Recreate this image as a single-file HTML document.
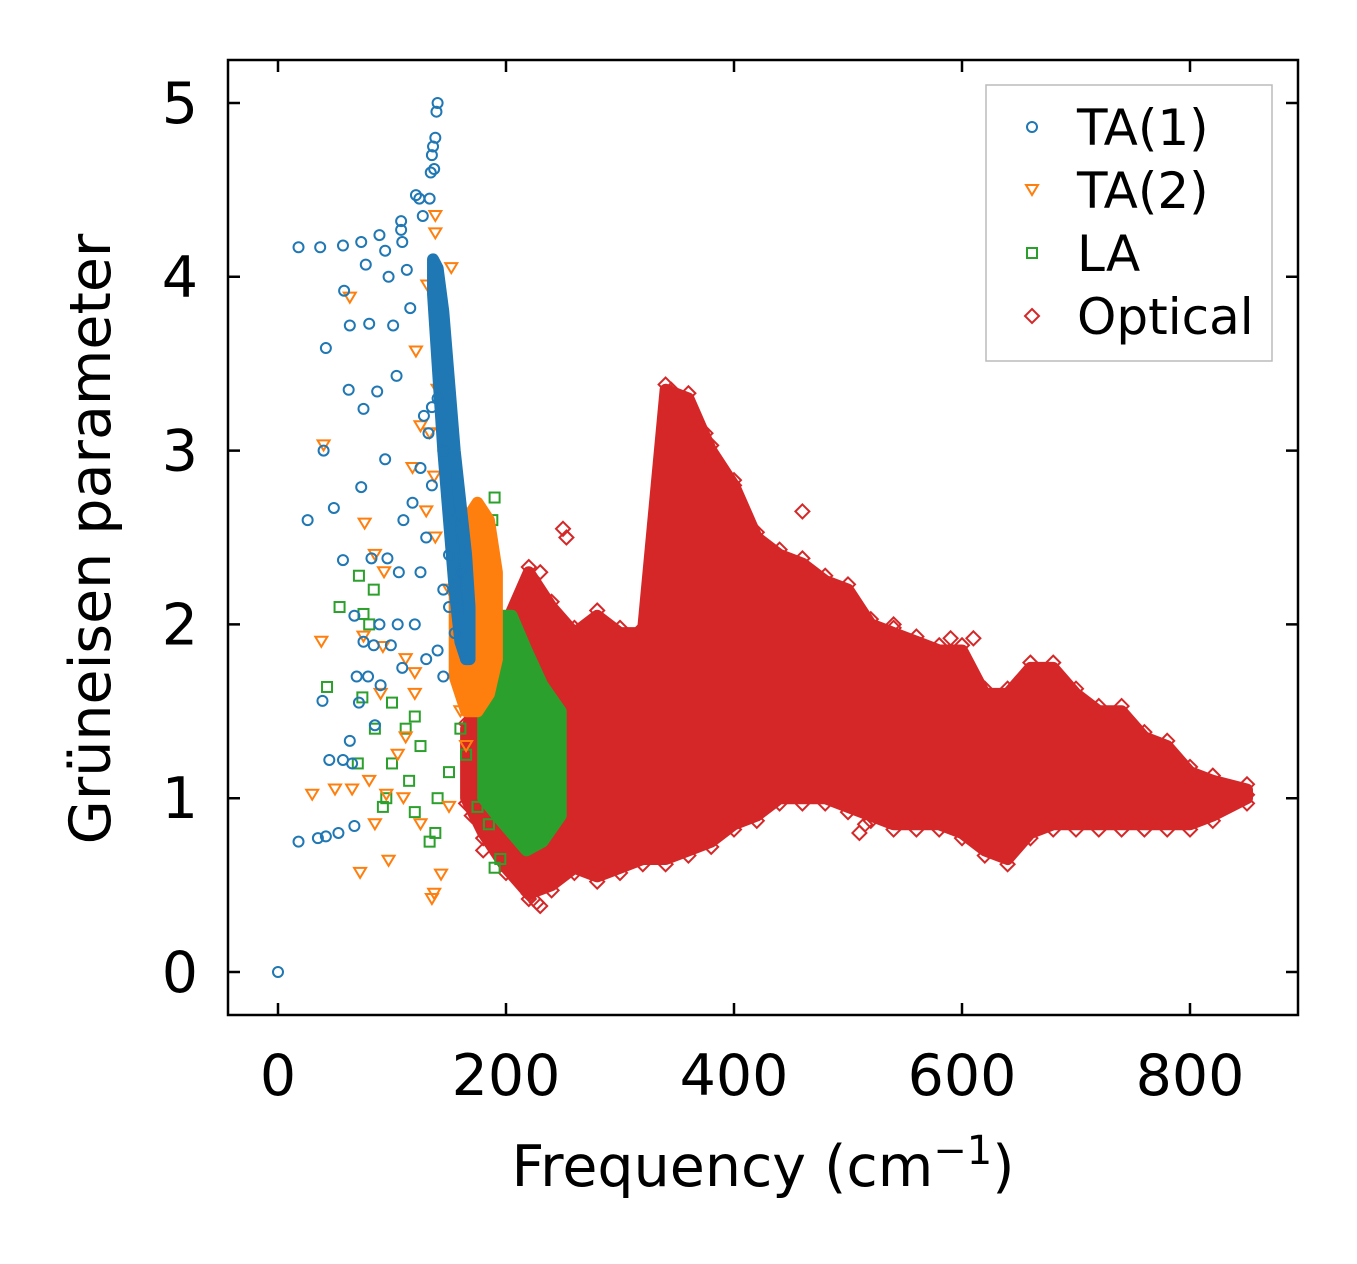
<!DOCTYPE html>
<html><head><meta charset="utf-8"><style>
html,body{margin:0;padding:0;background:#fff;}
svg{display:block;font-family:"DejaVu Sans","Liberation Sans",sans-serif;}
</style></head><body>
<svg id="chart" width="1357" height="1264" viewBox="0 0 1357 1264">
<g id="marks"></g>
<rect x="228" y="60" width="1070" height="955" fill="none" stroke="#000" stroke-width="2.5"/>
<g id="axes"></g>
<text x="763" y="1186" text-anchor="middle" font-size="57">Frequency (cm<tspan dy="-22" font-size="40">−1</tspan><tspan dy="22">)</tspan></text>
<text transform="translate(110,539) rotate(-90)" text-anchor="middle" font-size="57">Grüneisen parameter</text>
<g>
<rect x="986" y="85" width="286" height="276" fill="#fff" fill-opacity="0.8" stroke="#bbb" stroke-width="1.5"/>
<circle cx="1032" cy="127" r="5" fill="none" stroke="#1f77b4" stroke-width="2"/>
<text x="1077" y="145" font-size="50">TA(1)</text>
<path d="M1026,185 L1038,185 L1032,195 Z" fill="none" stroke="#ff7f0e" stroke-width="2"/>
<text x="1077" y="208" font-size="50">TA(2)</text>
<rect x="1027" y="248" width="10" height="10" fill="none" stroke="#2ca02c" stroke-width="2"/>
<text x="1077" y="271" font-size="50">LA</text>
<path d="M1032,309 L1039,316 L1032,323 L1025,316 Z" fill="none" stroke="#d62728" stroke-width="2"/>
<text x="1077" y="334" font-size="50">Optical</text>
</g>
</svg>
<script>
const xTicks=[0,200,400,600,800];
const yTicks=[0,1,2,3,4,5];
// Optical band envelope
const optX=[165,180,200,220,240,260,280,300,320,340,360,380,400,420,440,460,480,500,520,540,560,580,600,620,640,660,680,700,720,740,760,780,800,820,850];
const optLo=[1.0,0.8,0.6,0.45,0.5,0.6,0.55,0.6,0.65,0.65,0.7,0.75,0.85,0.9,1.0,1.0,1.0,0.95,0.9,0.85,0.85,0.85,0.8,0.7,0.65,0.8,0.85,0.85,0.85,0.85,0.85,0.85,0.85,0.9,1.0];
const optHi=[1.4,1.6,2.0,2.3,2.1,1.95,2.05,1.95,1.95,3.35,3.3,3.0,2.8,2.5,2.4,2.35,2.25,2.2,2.0,1.95,1.9,1.85,1.85,1.6,1.6,1.75,1.75,1.6,1.5,1.5,1.35,1.3,1.15,1.1,1.05];
const optOutX=[345,250,253,230,460,540,590,610,510,515,227,230,220,180,190,170,175,850,400,375,365];
const optOutY=[3.35,2.55,2.5,2.3,2.65,2.0,1.92,1.92,0.8,0.85,0.4,0.38,0.45,0.7,0.8,0.9,1.2,1.02,2.8,3.1,3.2];
// LA
const laBandX=[180,192,205,218,232,248];
const laBandLo=[1.0,0.9,0.8,0.7,0.75,0.9];
const laBandHi=[1.9,2.05,2.05,1.85,1.65,1.5];
const laX=[190,188,71,84,75,80,54,43,74,100,120,112,85,125,70,100,115,95,92,120,133,138,190,195,140,150,160,165,175,185];
const laY=[2.73,2.6,2.28,2.2,2.06,2.0,2.1,1.64,1.58,1.55,1.47,1.4,1.4,1.3,1.2,1.2,1.1,1.0,0.95,0.92,0.75,0.8,0.6,0.65,1.0,1.15,1.4,1.25,0.95,0.85];
// TA(2)
const ta2BandX=[155,165,175,185,192];
const ta2BandLo=[1.7,1.5,1.5,1.6,1.8];
const ta2BandHi=[2.3,2.6,2.7,2.6,2.3];
const ta2X=[138,138,152,131,63,121,140,125,40,133,118,137,130,76,85,93,138,150,38,75,92,112,160,120,175,170,180,185,90,120,105,112,80,65,30,50,95,110,85,125,97,72,143,137,135,150,165,170,160,175,180];
const ta2Y=[4.35,4.25,4.05,3.95,3.88,3.57,3.35,3.14,3.03,3.1,2.9,2.85,2.65,2.58,2.4,2.3,2.5,2.2,1.9,1.93,1.87,1.8,1.75,1.72,1.9,2.2,1.8,2.1,1.6,1.6,1.25,1.35,1.1,1.05,1.02,1.05,1.02,1.0,0.85,0.85,0.64,0.57,0.56,0.45,0.42,0.95,1.3,1.55,1.5,2.4,2.0];
// TA(1)
const ta1BandX=[136,140,145,150,155,160,165,168];
const ta1BandLo=[3.9,3.5,3.0,2.6,2.2,1.9,1.8,1.8];
const ta1BandHi=[4.1,4.05,3.8,3.4,3.0,2.7,2.4,2.1];
const ta1X=[140,139,138,136,135,137,134,121,124,133,127,108,108,18,37,57,73,89,94,109,77,113,97,58,116,63,80,101,42,104,62,87,75,40,94,73,49,26,110,57,82,96,106,67,89,105,75,84,99,69,79,90,109,39,71,85,63,57,45,65,67,53,42,35,18,0,120,125,130,135,132,128,125,118,145,150,155,145,140,135,150,155,145,165,160,158,140,130];
const ta1Y=[5.0,4.95,4.8,4.75,4.7,4.62,4.6,4.47,4.45,4.45,4.35,4.32,4.27,4.17,4.17,4.18,4.2,4.24,4.15,4.2,4.07,4.04,4.0,3.92,3.82,3.72,3.73,3.72,3.59,3.43,3.35,3.34,3.24,3.0,2.95,2.79,2.67,2.6,2.6,2.37,2.38,2.38,2.3,2.05,2.0,2.0,1.9,1.88,1.88,1.7,1.7,1.65,1.75,1.56,1.55,1.42,1.33,1.22,1.22,1.2,0.84,0.8,0.78,0.77,0.75,0.0,2.0,2.3,2.5,2.8,3.1,3.2,2.9,2.7,2.2,2.4,2.6,3.0,3.3,3.25,2.1,1.95,1.7,1.8,2.3,2.1,1.85,1.8];

const NS='http://www.w3.org/2000/svg';
const sx=v=>278+v*1.14;
const sy=v=>972-v*173.8;
const marks=document.getElementById('marks');
const axes=document.getElementById('axes');
function mk(tag,attrs,parent){const e=document.createElementNS(NS,tag);for(const k in attrs)e.setAttribute(k,attrs[k]);parent.appendChild(e);return e;}
function band(xs,lo,hi,color){
  let pts=xs.map((x,i)=>sx(x)+','+sy(hi[i]));
  for(let i=xs.length-1;i>=0;i--)pts.push(sx(xs[i])+','+sy(lo[i]));
  return mk('polygon',{points:pts.join(' '),fill:color,stroke:color,'stroke-width':12,'stroke-linejoin':'round'},marks);
}
function marker(shape,x,y,color){
  const X=sx(x),Y=sy(y);let e;
  if(shape==='circle')e=mk('circle',{cx:X,cy:Y,r:5,fill:'none',stroke:color,'stroke-width':2},marks);
  else if(shape==='tri')e=mk('path',{d:`M${X-6},${Y-5} L${X+6},${Y-5} L${X},${Y+5} Z`,fill:'none',stroke:color,'stroke-width':2},marks);
  else if(shape==='sq')e=mk('rect',{x:X-5,y:Y-5,width:10,height:10,fill:'none',stroke:color,'stroke-width':2},marks);
  else e=mk('path',{d:`M${X},${Y-7} L${X+7},${Y} L${X},${Y+7} L${X-7},${Y} Z`,fill:'none',stroke:color,'stroke-width':2},marks);
  return e;
}
// Optical
let b=band(optX,optLo,optHi,'#d62728');


optX.forEach((x,i)=>{
  let m1=marker('dia',x,optHi[i]+0.03,'#d62728');
  
  
  let m2=marker('dia',x,optLo[i]-0.03,'#d62728');
  
  
});
optOutX.forEach((x,i)=>{
  let m=marker('dia',x,optOutY[i],'#d62728');
  
  
});
// LA
b=band(laBandX,laBandLo,laBandHi,'#2ca02c');


laX.forEach((x,i)=>{
  let m=marker('sq',x,laY[i],'#2ca02c');
  
  
});
// TA2
b=band(ta2BandX,ta2BandLo,ta2BandHi,'#ff7f0e');


ta2X.forEach((x,i)=>{
  let m=marker('tri',x,ta2Y[i],'#ff7f0e');
  
  
});
// TA1
b=band(ta1BandX,ta1BandLo,ta1BandHi,'#1f77b4');


ta1X.forEach((x,i)=>{
  let m=marker('circle',x,ta1Y[i],'#1f77b4');
  
  
});
// Axes
xTicks.forEach(t=>{
  const X=sx(t);
  let l=mk('path',{d:`M${X},1015 v-12 M${X},60 v12`,stroke:'#000','stroke-width':2.5},axes);
  
  
  let tx=mk('text',{x:X,y:1095,'text-anchor':'middle','font-size':57},axes);
  tx.textContent=t;
  
  
});
yTicks.forEach(t=>{
  const Y=sy(t);
  let l=mk('path',{d:`M228,${Y} h12 M1298,${Y} h-12`,stroke:'#000','stroke-width':2.5},axes);
  
  
  let tx=mk('text',{x:198,y:Y+20,'text-anchor':'end','font-size':57},axes);
  tx.textContent=t;
  
  
});
</script>
</body></html>
